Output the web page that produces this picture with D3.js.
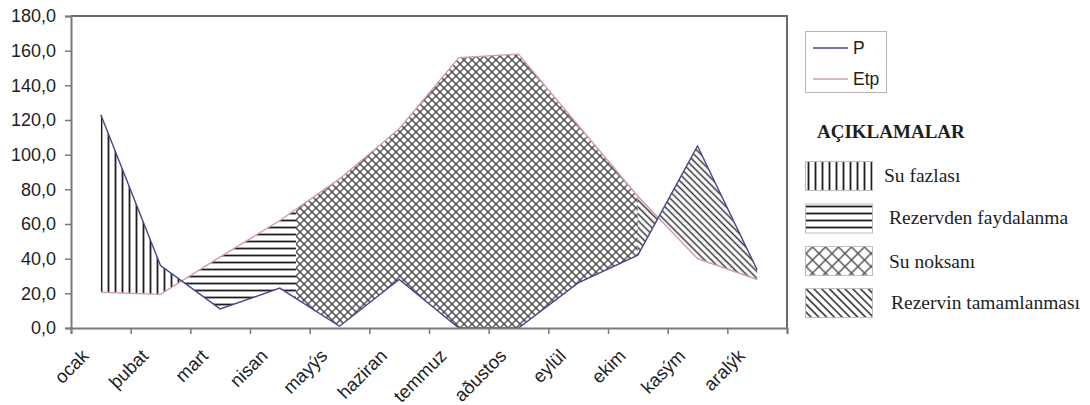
<!DOCTYPE html>
<html>
<head>
<meta charset="utf-8">
<script src="https://cdn.jsdelivr.net/npm/d3@7"></script>
<style>
  html, body { margin: 0; padding: 0; background: #fff; }
  svg { display: block; }
</style>
</head>
<body>
<svg id="chart" width="1090" height="405"></svg>
<script>
// Monthly precipitation (P) and potential evapotranspiration (Etp), mm
const months = ["ocak", "þubat", "mart", "nisan", "mayýs", "haziran",
                "temmuz", "aðustos", "eylül", "ekim", "kasým", "aralýk"];
const precipitation = [123, 36, 11, 23, 1, 28, 0, 0, 26, 42, 105, 33.5];
const evapotranspiration = [20.6, 19.4, 41, 62, 86, 115, 156, 158, 117, 76, 40, 28];
const yTicks = [0, 20, 40, 60, 80, 100, 120, 140, 160, 180];

// Water balance periods, in month-index units
const deficitStart = 3.27;   // storage exhausted, deficit begins
const rechargeStart = 9;     // recharge of storage begins

const seriesNames = ["P", "Etp"];
const zoneNames = ["Su fazlası", "Rezervden faydalanma", "Su noksanı", "Rezervin tamamlanması"];
const legendTitle = "AÇIKLAMALAR";

const svg = d3.select("#chart");
const plot = { left: 71, right: 787, top: 16, bottom: 328 };

const x = d3.scaleBand().domain(months).range([plot.left, plot.right]).padding(0);
const xi = d3.scaleLinear().domain([-0.5, months.length - 0.5]).range([plot.left, plot.right]);
const y = d3.scaleLinear().domain([0, 180]).range([plot.bottom, plot.top]);

const defs = svg.append("defs");
function linePattern(id, size, color, width, rotate, vertical) {
  const p = defs.append("pattern").attr("id", id)
    .attr("patternUnits", "userSpaceOnUse")
    .attr("width", size).attr("height", size);
  if (rotate) p.attr("patternTransform", `rotate(${rotate})`);
  p.append("line")
    .attr("x1", vertical ? size / 2 : 0).attr("x2", vertical ? size / 2 : size)
    .attr("y1", vertical ? 0 : size / 2).attr("y2", vertical ? size : size / 2)
    .attr("stroke", color).attr("stroke-width", width);
}
function crossPattern(id, period, color, width) {
  const s = period / Math.SQRT2;
  const p = defs.append("pattern").attr("id", id)
    .attr("patternUnits", "userSpaceOnUse")
    .attr("width", s).attr("height", s)
    .attr("patternTransform", "rotate(45)");
  p.append("path")
    .attr("d", `M0,${s / 2}H${s}M${s / 2},0V${s}`)
    .attr("stroke", color).attr("stroke-width", width).attr("fill", "none");
}
linePattern("pat-surplus", 7, "#1e1e1e", 1.8, 0, true);
linePattern("pat-use", 7, "#1e1e1e", 1.8, 0, false);
crossPattern("pat-deficit", 8, "#3c3c3c", 1.3);
linePattern("pat-recharge", 4.8, "#333", 1.5, -45, true);
crossPattern("pat-deficit-lg", 13, "#555", 1.4);
linePattern("pat-recharge-lg", 5.5, "#333", 1.6, -45, true);

// value of a series at a fractional month index
function valueAt(arr, t) {
  const i0 = Math.max(0, Math.min(arr.length - 1, Math.floor(t)));
  const i1 = Math.min(arr.length - 1, i0 + 1);
  const f = t - i0;
  return arr[i0] + (arr[i1] - arr[i0]) * f;
}
// first crossing of P and Etp at or after index `from`
function crossing(from) {
  for (let i = Math.floor(from); i < months.length - 1; i++) {
    const d0 = precipitation[i] - evapotranspiration[i];
    const d1 = precipitation[i + 1] - evapotranspiration[i + 1];
    if (d0 === 0) return i;
    if (d0 * d1 < 0) return i + d0 / (d0 - d1);
  }
  return months.length - 1;
}
const surplusEnd = crossing(0);

const zones = [
  { name: zoneNames[0], from: 0, to: surplusEnd, fill: "url(#pat-surplus)" },
  { name: zoneNames[1], from: surplusEnd, to: deficitStart, fill: "url(#pat-use)" },
  { name: zoneNames[2], from: deficitStart, to: rechargeStart, fill: "url(#pat-deficit)" },
  { name: zoneNames[3], from: rechargeStart, to: months.length - 1, fill: "url(#pat-recharge)" }
];

function zonePath(a, b) {
  const ts = [a];
  for (let i = Math.ceil(a); i < b; i++) if (i > a) ts.push(i);
  ts.push(b);
  const top = ts.map(t => [xi(t), y(valueAt(precipitation, t))]);
  const bottom = ts.slice().reverse().map(t => [xi(t), y(valueAt(evapotranspiration, t))]);
  return "M" + top.concat(bottom).map(p => p.join(",")).join("L") + "Z";
}

svg.append("g").selectAll("path").data(zones).join("path")
  .attr("d", d => zonePath(d.from, d.to))
  .attr("fill", d => d.fill)
  .attr("stroke", "none");

// plot frame (top and right)
svg.append("path")
  .attr("d", `M${plot.left},${plot.top}H${plot.right}V${plot.bottom}`)
  .attr("fill", "none").attr("stroke", "#6a6a6a").attr("stroke-width", 2);

// series lines
const line = arr => d3.line()
  .x((d, i) => x(months[i]) + x.bandwidth() / 2)
  .y(d => y(d))(arr);
svg.append("path").attr("d", line(evapotranspiration))
  .attr("fill", "none").attr("stroke", "#d49ab8").attr("stroke-width", 1.4);
svg.append("path").attr("d", line(precipitation))
  .attr("fill", "none").attr("stroke", "#46468e").attr("stroke-width", 1.4);

// y axis
const yAxis = svg.append("g").attr("transform", `translate(${plot.left},0)`)
  .call(d3.axisLeft(y).tickValues(yTicks).tickSize(6).tickPadding(9)
    .tickFormat(d => d.toFixed(1).replace(".", ",")));
yAxis.select(".domain").attr("stroke", "#7a7a7a").attr("stroke-width", 2);
yAxis.selectAll(".tick line").attr("stroke", "#7a7a7a").attr("stroke-width", 1.5);
yAxis.selectAll(".tick text")
  .attr("font-family", "'Liberation Sans', Arial, sans-serif")
  .attr("font-size", 18).attr("fill", "#1e1e1e");

// x axis: tick marks between categories, rotated month labels
const xTickVals = d3.range(months.length + 1).map(i => i - 0.5);
const xAxis = svg.append("g").attr("transform", `translate(0,${plot.bottom})`)
  .call(d3.axisBottom(xi).tickValues(xTickVals).tickSize(6).tickFormat(""));
xAxis.select(".domain").attr("stroke", "#7a7a7a").attr("stroke-width", 2);
xAxis.selectAll(".tick line").attr("stroke", "#7a7a7a").attr("stroke-width", 1.5);

svg.append("g").selectAll("text").data(months).join("text")
  .attr("transform", d => `translate(${x(d) + x.bandwidth() / 2 - 11},357) rotate(-45)`)
  .attr("text-anchor", "end")
  .attr("font-family", "'Liberation Sans', Arial, sans-serif")
  .attr("font-size", 18.5).attr("fill", "#1e1e1e")
  .text(d => d);

// series legend
const leg = svg.append("g");
leg.append("rect").attr("x", 805.5).attr("y", 31.5).attr("width", 81).attr("height", 61)
  .attr("fill", "#fff").attr("stroke", "#b5b5b5").attr("stroke-width", 1);
const legItems = [
  { name: seriesNames[0], color: "#46468e", cy: 48 },
  { name: seriesNames[1], color: "#d49ab8", cy: 79 }
];
leg.selectAll("line").data(legItems).join("line")
  .attr("x1", 813).attr("x2", 848).attr("y1", d => d.cy).attr("y2", d => d.cy)
  .attr("stroke", d => d.color).attr("stroke-width", 1.6);
leg.selectAll("text").data(legItems).join("text")
  .attr("x", 853).attr("y", d => d.cy + 6)
  .attr("font-family", "'Liberation Sans', Arial, sans-serif")
  .attr("font-size", 17.5).attr("fill", "#1e1e1e")
  .text(d => d.name);

// zone legend
svg.append("text").attr("x", 817).attr("y", 138)
  .attr("font-family", "'Liberation Serif', 'Times New Roman', serif")
  .attr("font-weight", "bold").attr("font-size", 19).attr("fill", "#1e1e1e")
  .text(legendTitle);

const swatches = [
  { name: zoneNames[0], fill: "url(#pat-surplus)", y: 161, tx: 884, ty: 182 },
  { name: zoneNames[1], fill: "url(#pat-use)", y: 203.5, tx: 889, ty: 224 },
  { name: zoneNames[2], fill: "url(#pat-deficit-lg)", y: 246, tx: 889, ty: 268 },
  { name: zoneNames[3], fill: "url(#pat-recharge-lg)", y: 288, tx: 891, ty: 309 }
];
const sw = svg.append("g").selectAll("g").data(swatches).join("g");
sw.append("rect").attr("x", 805.5).attr("y", d => d.y + 0.5)
  .attr("width", 67).attr("height", 29)
  .attr("fill", d => d.fill).attr("stroke", "#bdbdbd").attr("stroke-width", 1);
sw.append("text").attr("x", d => d.tx).attr("y", d => d.ty)
  .attr("font-family", "'Liberation Serif', 'Times New Roman', serif")
  .attr("font-size", 19.5).attr("fill", "#1e1e1e")
  .text(d => d.name);
</script>
</body>
</html>
